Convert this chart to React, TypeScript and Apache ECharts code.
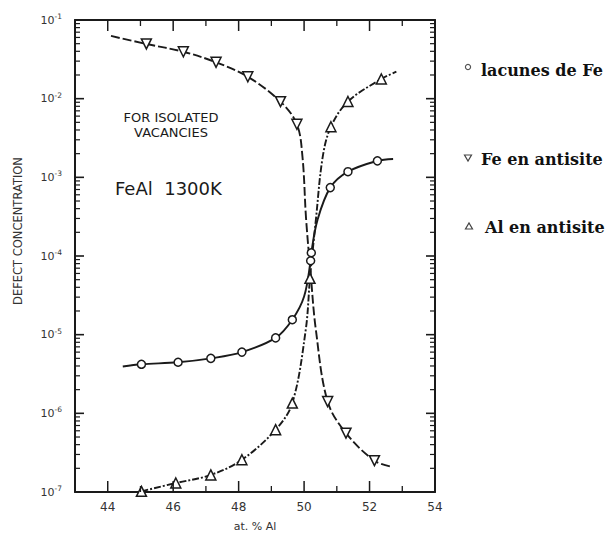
import React, { useEffect, useRef } from "react";
import * as echarts from "echarts";

// [at.% Al, concentration, marker? 1/0]
const vacancyFe: [number, number, number][] = [
  [44.46, 3.94e-6, 0],
  [45.03, 4.2e-6, 1],
  [46.15, 4.46e-6, 1],
  [47.15, 5.0e-6, 1],
  [48.1, 6.0e-6, 1],
  [49.13, 9.1e-6, 1],
  [49.64, 1.55e-5, 1],
  [50.0, 3.05e-5, 0],
  [50.2, 8.7e-5, 1],
  [50.22, 1.1e-4, 1],
  [50.41, 2.88e-4, 0],
  [50.8, 7.4e-4, 1],
  [51.34, 1.18e-3, 1],
  [52.24, 1.62e-3, 1],
  [52.72, 1.71e-3, 0],
];

const feAntisite: [number, number, number][] = [
  [44.1, 0.0627, 0],
  [45.18, 0.0496, 1],
  [46.31, 0.0395, 1],
  [47.31, 0.029, 1],
  [48.28, 0.019, 1],
  [49.28, 0.00916, 1],
  [49.78, 0.00473, 1],
  [49.95, 0.00183, 0],
  [50.06, 3.0e-4, 0],
  [50.2, 6.0e-5, 0],
  [50.36, 1.15e-5, 0],
  [50.72, 1.41e-6, 1],
  [51.28, 5.6e-7, 1],
  [52.15, 2.5e-7, 1],
  [52.67, 2.1e-7, 0],
];

const alAntisite: [number, number, number][] = [
  [45.03, 1.02e-7, 1],
  [46.08, 1.3e-7, 1],
  [47.15, 1.65e-7, 1],
  [48.1, 2.57e-7, 1],
  [49.13, 6.2e-7, 1],
  [49.64, 1.35e-6, 1],
  [50.05, 1.15e-5, 0],
  [50.18, 5.2e-5, 1],
  [50.36, 2.88e-4, 0],
  [50.57, 1.83e-3, 0],
  [50.82, 4.4e-3, 1],
  [51.34, 9.2e-3, 1],
  [52.36, 0.0178, 1],
  [52.82, 0.022, 0],
];

const xMin = 43;
const xMax = 54;
const xMajorTicks = [44, 46, 48, 50, 52];
const xMinorTicks = [45, 47, 49, 51, 53];
const yMin = 1e-7;
const yMax = 1e-1;
const yMajorTicks = [1e-6, 1e-5, 1e-4, 1e-3, 1e-2];
const yDecadeExponents = [-7, -6, -5, -4, -3, -2];
const yMinorMultipliers = [2, 3, 4, 5, 6, 7, 8, 9];

const legendLabels = ["lacunes de Fe", "Fe en antisite", "Al en antisite"];
const yAxisTitle = "DEFECT CONCENTRATION";
const xAxisTitle = "at. % Al";
const noteLines = ["FOR ISOLATED", "VACANCIES"];
const noteTitle = "FeAl  1300K";

const INK = "#1a1a1a";
const SANS = "DejaVu Sans, Liberation Sans, sans-serif";
const SERIF = "DejaVu Serif, Liberation Serif, serif";

export default function App() {
  const ref = useRef<HTMLDivElement>(null);

  useEffect(() => {
    if (!ref.current) return;
    const chart = echarts.init(ref.current, null, { renderer: "svg" });

    const yMinorValues: number[] = [];
    yDecadeExponents.forEach((e) =>
      yMinorMultipliers.forEach((m) => yMinorValues.push(m * Math.pow(10, e)))
    );

    const lineSeries = (name: string, d: [number, number, number][], type: any) => ({
      type: "line",
      name,
      data: d.map((p) => [p[0], p[1]]),
      smooth: 0.35,
      showSymbol: false,
      silent: true,
      lineStyle: { color: INK, width: 1.9, type },
      z: 2,
    });
    const markSeries = (name: string, d: [number, number, number][], symbol: string, size: number, rotate: number) => ({
      type: "scatter",
      name: name + " marks",
      data: d.filter((p) => p[2] === 1).map((p) => [p[0], p[1]]),
      symbol,
      symbolSize: size,
      symbolRotate: rotate,
      silent: true,
      itemStyle: { color: "#fff", borderColor: INK, borderWidth: 1.5, opacity: 1 },
      z: 4,
    });

    const axisLineStyle = { show: true, onZero: false, lineStyle: { color: INK, width: 2 } };
    const yLabelFmt = (v: number) => {
      const e = Math.round(Math.log10(v));
      return `{b|10}{s|${e}}`;
    };

    chart.setOption({
      animation: false,
      backgroundColor: "#fff",
      grid: { left: 75, right: 177, top: 20, bottom: 46 },
      xAxis: [
        {
          type: "value",
          position: "bottom",
          min: xMin,
          max: xMax,
          interval: 1,
          axisLine: axisLineStyle,
          axisTick: { show: false },
          axisLabel: {
            formatter: (v: number) => (v % 2 === 0 ? String(v) : ""),
            color: "#333",
            fontFamily: SANS,
            fontSize: 12,
            margin: 9,
          },
          splitLine: { show: false },
          name: xAxisTitle,
          nameLocation: "middle",
          nameGap: 29,
          nameTextStyle: { color: "#333", fontFamily: SANS, fontSize: 11 },
        },
        {
          type: "value",
          position: "top",
          min: xMin,
          max: xMax,
          interval: 1,
          axisLine: axisLineStyle,
          axisTick: { show: false },
          axisLabel: { show: false },
          splitLine: { show: false },
        },
      ],
      yAxis: [
        {
          type: "log",
          logBase: 10,
          position: "left",
          min: yMin,
          max: yMax,
          interval: 1,
          axisLine: axisLineStyle,
          axisTick: { show: false },
          axisLabel: {
            formatter: yLabelFmt,
            margin: 13,
            rich: {
              b: { fontSize: 11, color: "#333", fontFamily: SANS, lineHeight: 15 },
              s: { fontSize: 7.5, color: "#333", fontFamily: SANS, verticalAlign: "top", lineHeight: 9 },
            },
          },
          splitLine: { show: false },
        },
        {
          type: "log",
          logBase: 10,
          position: "right",
          min: yMin,
          max: yMax,
          interval: 1,
          axisLine: axisLineStyle,
          axisTick: { show: false },
          axisLabel: { show: false },
          splitLine: { show: false },
        },
      ],
      series: [
        lineSeries("lacunes de Fe", vacancyFe, "solid"),
        lineSeries("Fe en antisite", feAntisite, [9, 3]),
        lineSeries("Al en antisite", alAntisite, [7, 2, 2, 2]),
        markSeries("lacunes de Fe", vacancyFe, "circle", 8, 0),
        markSeries("Fe en antisite", feAntisite, "triangle", 10, 180),
        markSeries("Al en antisite", alAntisite, "triangle", 10, 0),
      ],
    });

    // Ticks placed through the chart's own scales
    const px = (x: number, y: number) =>
      chart.convertToPixel({ xAxisIndex: 0, yAxisIndex: 0 }, [x, y]) as number[];
    const left = px(xMin, yMin)[0];
    const right = px(xMax, yMin)[0];
    const bottom = px(xMin, yMin)[1];
    const top = px(xMin, yMax)[1];
    const tickEls: any[] = [];
    const hTick = (y: number, len: number, w: number) => {
      tickEls.push({ type: "line", z: 50, silent: true, shape: { x1: left, y1: y, x2: left + len, y2: y }, style: { stroke: INK, lineWidth: w } });
      tickEls.push({ type: "line", z: 50, silent: true, shape: { x1: right, y1: y, x2: right - len, y2: y }, style: { stroke: INK, lineWidth: w } });
    };
    const vTick = (x: number, len: number, w: number) => {
      tickEls.push({ type: "line", z: 50, silent: true, shape: { x1: x, y1: bottom, x2: x, y2: bottom - len }, style: { stroke: INK, lineWidth: w } });
      tickEls.push({ type: "line", z: 50, silent: true, shape: { x1: x, y1: top, x2: x, y2: top + len }, style: { stroke: INK, lineWidth: w } });
    };
    yMajorTicks.forEach((v) => hTick(px(xMin, v)[1], 9, 1.6));
    yMinorValues.forEach((v) => hTick(px(xMin, v)[1], 5, 1.2));
    xMajorTicks.forEach((v) => vTick(px(v, yMin)[0], 11, 1.5));
    xMinorTicks.forEach((v) => vTick(px(v, yMin)[0], 6, 1.3));

    const legendY = [70, 159, 227];
    const labelEls: any[] = [
      {
        type: "text",
        x: 18,
        y: 231,
        rotation: Math.PI / 2,
        style: { text: yAxisTitle, fill: "#333", font: `11.5px ${SANS}`, align: "center", verticalAlign: "middle" },
      },
      {
        type: "text",
        x: 171,
        y: 117,
        style: { text: noteLines[0], fill: INK, font: `13px ${SANS}`, align: "center", verticalAlign: "middle" },
      },
      {
        type: "text",
        x: 171,
        y: 132,
        style: { text: noteLines[1], fill: INK, font: `13px ${SANS}`, align: "center", verticalAlign: "middle" },
      },
      {
        type: "text",
        x: 115,
        y: 188,
        style: { text: noteTitle, fill: INK, font: `18px ${SANS}`, align: "left", verticalAlign: "middle" },
      },
      {
        type: "circle",
        shape: { cx: 468, cy: legendY[0] - 3, r: 2.6 },
        style: { fill: "#fff", stroke: "#555", lineWidth: 1.2 },
      },
      {
        type: "polygon",
        shape: { points: [[464.5, legendY[1] - 4], [471.5, legendY[1] - 4], [468, legendY[1] + 2]] },
        style: { fill: "#fff", stroke: "#444", lineWidth: 1.2 },
      },
      {
        type: "polygon",
        shape: { points: [[465.5, legendY[2] + 2], [472.5, legendY[2] + 2], [469, legendY[2] - 4]] },
        style: { fill: "#fff", stroke: "#444", lineWidth: 1.2 },
      },
      {
        type: "text",
        x: 481,
        y: legendY[0],
        style: { text: legendLabels[0], fill: "#111", font: `bold 16px ${SERIF}`, verticalAlign: "middle" },
      },
      {
        type: "text",
        x: 481,
        y: legendY[1],
        style: { text: legendLabels[1], fill: "#111", font: `bold 16px ${SERIF}`, verticalAlign: "middle" },
      },
      {
        type: "text",
        x: 485,
        y: legendY[2],
        style: { text: legendLabels[2], fill: "#111", font: `bold 16px ${SERIF}`, verticalAlign: "middle" },
      },
    ];

    chart.setOption({ graphic: [...labelEls, ...tickEls] });

    return () => chart.dispose();
  }, []);

  return (
    <div
      ref={ref}
      style={{ position: "fixed", left: 0, top: 0, width: 612, height: 538, background: "#fff" }}
    />
  );
}
